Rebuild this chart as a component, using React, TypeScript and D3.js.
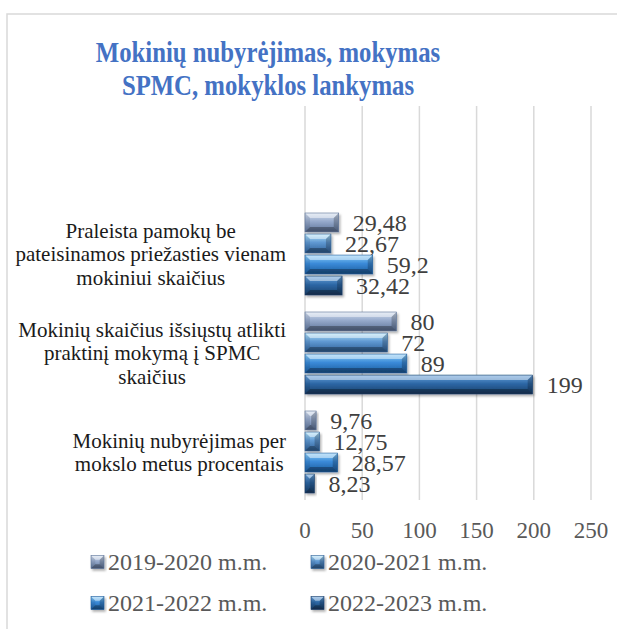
import React from "react";
import * as d3 from "d3";

const titleLines = ["Mokinių nubyrėjimas, mokymas", "SPMC, mokyklos lankymas"];
const categoryLines: string[][] = [
  ["Praleista pamokų be", "pateisinamos priežasties vienam", "mokiniui skaičius"],
  ["Mokinių skaičius išsiųstų atlikti", "praktinį mokymą į SPMC", "skaičius"],
  ["Mokinių nubyrėjimas per", "mokslo metus procentais"],
];
const seriesNames = ["2019-2020 m.m.", "2020-2021 m.m.", "2021-2022 m.m.", "2022-2023 m.m."];
const s2019 = [29.48, 80, 9.76];
const s2020 = [22.67, 72, 12.75];
const s2021 = [59.2, 89, 28.57];
const s2022 = [32.42, 199, 8.23];
const seriesValues = [s2019, s2020, s2021, s2022];
const xTicks = [0, 50, 100, 150, 200, 250];

const palette = [
  { light: "#d3deee", face: "#95a9cb", dark: "#5d7398" },
  { light: "#b4e4fa", face: "#5f98d2", dark: "#2e5f96" },
  { light: "#8fd0f8", face: "#3a8ad8", dark: "#1d5b9c" },
  { light: "#6aa3dc", face: "#2d68a6", dark: "#183d68" },
];

const FONT = "'Liberation Serif', 'Times New Roman', serif";

function fmt(v: number) {
  return String(v).replace(".", ",");
}

let measureCtx: CanvasRenderingContext2D | null = null;
function textWidth(t: string, size: number) {
  if (!measureCtx) {
    const c = document.createElement("canvas");
    measureCtx = c.getContext("2d");
  }
  if (!measureCtx) return t.length * size * 0.45;
  measureCtx.font = `${size}px 'Liberation Serif'`;
  return measureCtx.measureText(t).width;
}

function BevelBar({ x, y, w, h, i }: { x: number; y: number; w: number; h: number; i: number }) {
  const b = Math.max(0, Math.min(5, h / 3, w / 2));
  const x1 = x + w, y1 = y + h;
  return (
    <g filter="url(#shadow)">
      <rect x={x} y={y} width={w} height={h} fill={`url(#grad${i})`} />
      <polygon points={`${x},${y} ${x1},${y} ${x1 - b},${y + b} ${x + b},${y + b}`} fill="#ffffff" opacity={0.45} />
      <polygon points={`${x},${y1} ${x1},${y1} ${x1 - b},${y1 - b} ${x + b},${y1 - b}`} fill="#000000" opacity={0.3} />
      <polygon points={`${x1},${y} ${x1},${y1} ${x1 - b},${y1 - b} ${x1 - b},${y + b}`} fill="#000000" opacity={0.22} />
      <polygon points={`${x},${y} ${x},${y1} ${x + b},${y1 - b} ${x + b},${y + b}`} fill="#000000" opacity={0.08} />
      <rect x={x} y={y} width={w} height={h} fill="none" stroke={palette[i].dark} strokeWidth={0.6} />
    </g>
  );
}

export default function App() {
  const W = 617, H = 629;
  const x = d3.scaleLinear().domain([0, 250]).range([305, 591]);
  const yCat = d3.scaleBand<number>().domain([0, 1, 2]).range([204.5, 501.5]).padding(0);
  const plotTop = 106, plotBottom = 500;
  const labelRight = 286;

  return (
    <svg width={W} height={H} style={{ position: "absolute", left: 0, top: 0, background: "#fff" }} fontFamily={FONT}>
      <defs>
        {palette.map((p, i) => (
          <linearGradient key={i} id={`grad${i}`} x1="0" y1="0" x2="0" y2="1">
            <stop offset="0" stopColor={p.light} />
            <stop offset="0.45" stopColor={p.face} />
            <stop offset="1" stopColor={p.dark} />
          </linearGradient>
        ))}
        <filter id="shadow" x="-10%" y="-30%" width="130%" height="180%">
          <feDropShadow dx="1.5" dy="2" stdDeviation="1.2" floodColor="#000" floodOpacity="0.3" />
        </filter>
      </defs>
      <rect x={7} y={14} width={W + 20} height={H + 20} fill="#fff" stroke="#d9d9d9" strokeWidth={1.5} />

      {titleLines.map((t, i) => (
        <text key={i} transform={`translate(268,${62 + i * 33}) scale(0.825,1)`} textAnchor="middle" fontSize={30} fontWeight="bold" fill="#4472c4">
          {t}
        </text>
      ))}

      {xTicks.map((t) => (
        <g key={t}>
          <line x1={x(t)} x2={x(t)} y1={plotTop} y2={plotBottom} stroke="#d9d9d9" strokeWidth={1.5} />
          <text x={x(t)} y={538} textAnchor="middle" fontSize={23} fill="#595959">
            {t}
          </text>
        </g>
      ))}

      {categoryLines.map((lines, ci) => {
        const c = (yCat(ci) as number) + yCat.bandwidth() / 2;
        const inner = d3.scaleBand<number>().domain([0, 1, 2, 3]).range([c - 41, c + 41]).paddingInner(0.1);
        const maxW = d3.max(lines, (l) => textWidth(l, 21)) as number;
        const cx = labelRight - maxW / 2;
        const lh = 23.5;
        const startY = c - ((lines.length - 1) * lh) / 2;
        return (
          <g key={ci}>
            {lines.map((l, li) => (
              <text key={li} x={cx} y={startY + li * lh} dy="0.35em" textAnchor="middle" fontSize={21} fill="#1a1a1a">
                {l}
              </text>
            ))}
            {seriesValues.map((vals, si) => {
              const by = inner(si) as number;
              const bh = inner.bandwidth();
              const v = vals[ci];
              return (
                <g key={si}>
                  <BevelBar x={x(0)} y={by} w={x(v) - x(0)} h={bh} i={si} />
                  <text x={x(v) + 14} y={by + bh / 2} dy="0.35em" fontSize={24} fill="#404040">
                    {fmt(v)}
                  </text>
                </g>
              );
            })}
          </g>
        );
      })}

      {seriesNames.map((n, i) => {
        const col = i % 2, row = Math.floor(i / 2);
        const lx = 91 + col * 220;
        const ly = 562 + row * 41;
        return (
          <g key={n}>
            <BevelBar x={lx} y={ly - 6.5} w={13} h={13} i={i} />
            <text x={lx + 17} y={ly} dy="0.35em" fontSize={24} fill="#595959">
              {n}
            </text>
          </g>
        );
      })}
    </svg>
  );
}
